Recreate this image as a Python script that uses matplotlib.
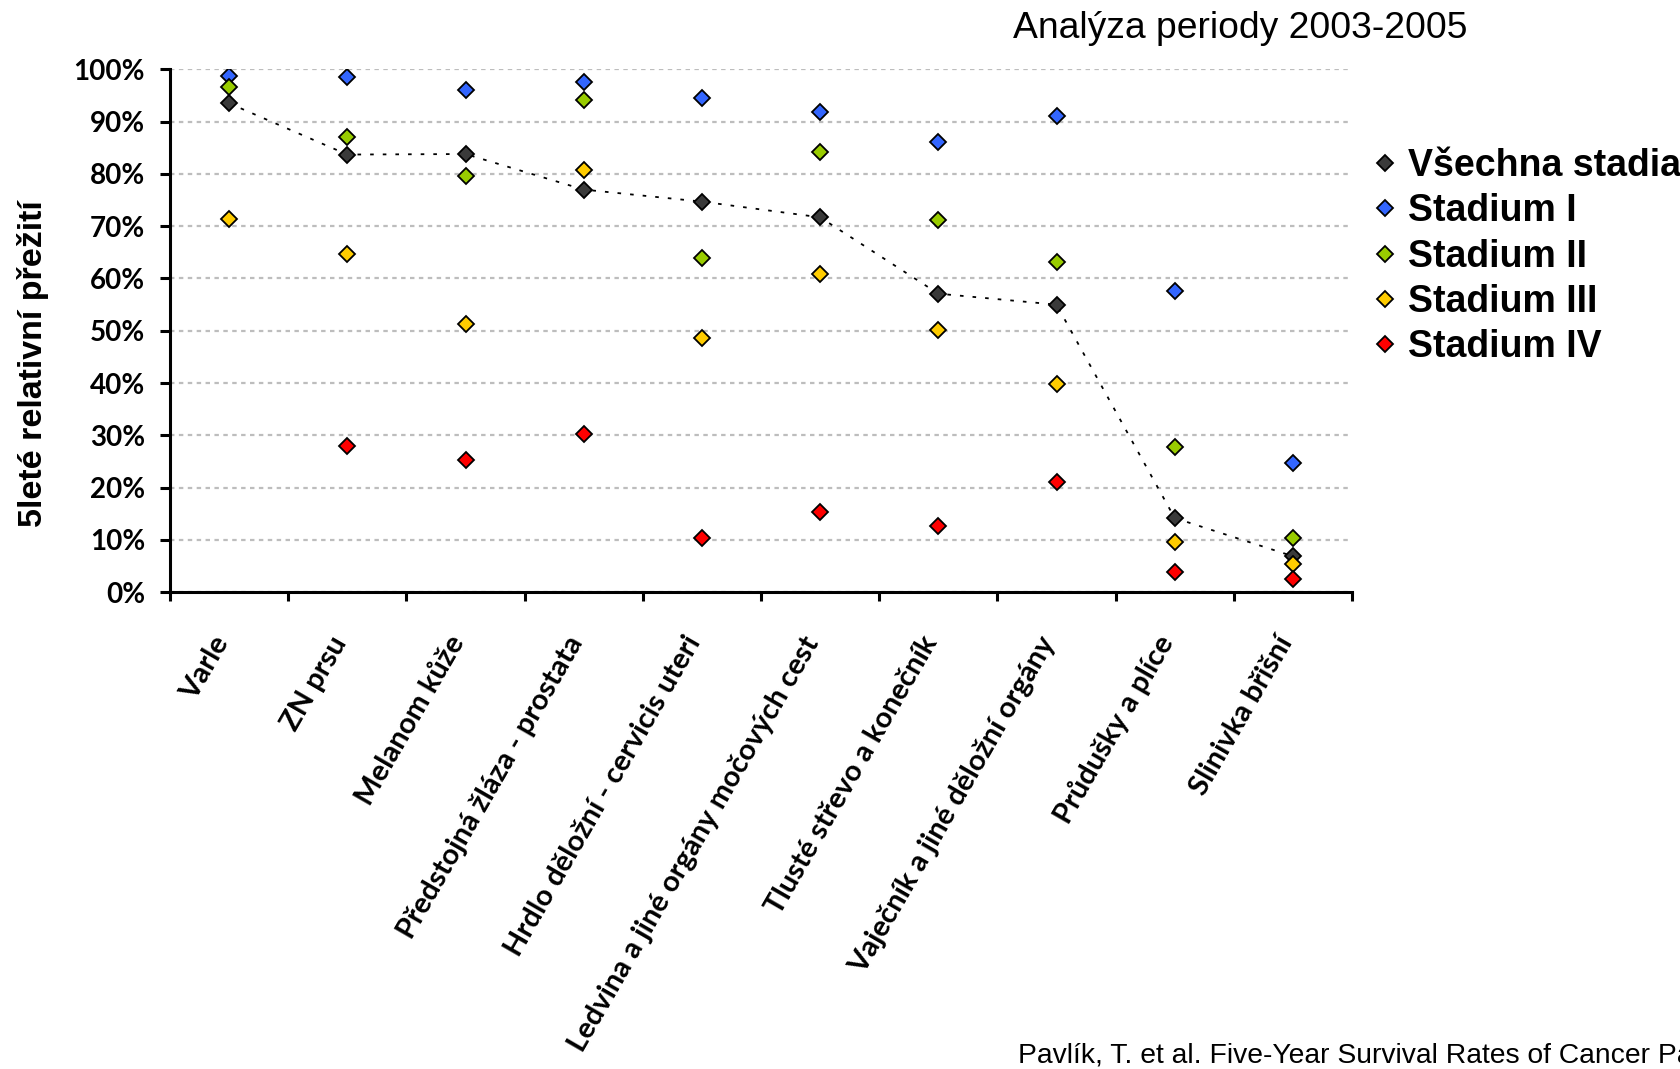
import numpy as np
import matplotlib
matplotlib.use("Agg")
import matplotlib.pyplot as plt

# ---- data ----
kategorie = [
    "Varle",
    "ZN prsu",
    "Melanom kůže",
    "Předstojná žláza - prostata",
    "Hrdlo děložní - cervicis uteri",
    "Ledvina a jiné orgány močových cest",
    "Tlusté střevo a konečník",
    "Vaječník a jiné děložní orgány",
    "Průdušky a plíce",
    "Slinivka břišní",
]
vsechna = [93.5, 83.7, 83.8, 77.0, 74.7, 71.7, 57.1, 55.0, 14.2, 6.9]
stadium_1 = [98.7, 98.6, 96.0, 97.6, 94.6, 91.9, 86.1, 91.1, 57.6, 24.8]
stadium_2 = [96.6, 87.0, 79.6, 94.2, 63.9, 84.1, 71.2, 63.2, 27.8, 10.3]
stadium_3 = [71.4, 64.6, 51.3, 80.8, 48.6, 60.9, 50.1, 39.8, 9.6, 5.4]
stadium_4 = [np.nan, 27.9, 25.3, 30.2, 10.4, 15.3, 12.6, 21.0, 3.8, 2.6]

nazvy = ["Všechna stadia", "Stadium I", "Stadium II", "Stadium III", "Stadium IV"]
barvy = ["#3a3a3a", "#3366ff", "#99cc00", "#ffcc00", "#ff0000"]

yticks = list(range(0, 101, 10))
ytick_labels = [f"{v}%" for v in yticks]

# ---- figure ----
fig = plt.figure(figsize=(16.8, 10.69), dpi=100)
ax = fig.add_axes([170 / 1680, 1 - 592.3 / 1069, (1352 - 170) / 1680, (592.3 - 69.3) / 1069])

x = np.arange(len(kategorie))

ax.yaxis.grid(True, color="#bdbdbd", linewidth=1.6, linestyle=(0, (2, 2)), zorder=0)
ax.set_axisbelow(True)

# tečkovaná spojnice pro všechna stadia
ax.plot(x, vsechna, color="black", linewidth=1.3, linestyle=(0, (2, 5)), zorder=2)

serie = [vsechna, stadium_1, stadium_2, stadium_3, stadium_4]
for hodnoty, nazev, barva in zip(serie, nazvy, barvy):
    ax.plot(x, hodnoty, linestyle="none", marker="D", markersize=8.6,
            markerfacecolor=barva, markeredgecolor="black", markeredgewidth=1.3,
            label=nazev, zorder=3)

ax.set_xlim(-0.5, len(kategorie) - 0.5)
ax.set_ylim(0, 100)

for s in ["top", "right"]:
    ax.spines[s].set_visible(False)
for s in ["left", "bottom"]:
    ax.spines[s].set_linewidth(2.2)

ax.set_yticks(yticks)
ax.set_yticklabels(ytick_labels, fontfamily="Lato", fontweight="bold", fontsize=20)
ax.tick_params(axis="y", direction="out", length=7, width=2.2, pad=11)

# čárky na hranicích kategorií, popisky uprostřed
ax.set_xticks(np.arange(-0.5, len(kategorie)), labels=[""] * (len(kategorie) + 1))
ax.tick_params(axis="x", which="major", direction="out", length=6.5, width=2.2)
ax.set_xticks(x, labels=kategorie, minor=True)
ax.tick_params(axis="x", which="minor", length=0, pad=36)
for lbl in ax.get_xticklabels(minor=True):
    lbl.set_fontfamily("Lato")
    lbl.set_fontweight("bold")
    lbl.set_fontsize(21)
    lbl.set_rotation(60)
    lbl.set_rotation_mode("anchor")
    lbl.set_ha("right")
    lbl.set_va("baseline")

fig.text(33 / 1680, 1 - 364 / 1069, "5leté relativní přežití", rotation=90,
         ha="center", va="center", fontfamily="Liberation Sans", fontweight="bold",
         fontsize=24.5)

leg = ax.legend(loc="upper left", bbox_to_anchor=(1374 / 1680, 1 - 148 / 1069),
                bbox_transform=fig.transFigure, frameon=False, borderpad=0,
                borderaxespad=0, handlelength=0.6, handletextpad=0.32,
                labelspacing=0.25,
                prop={"family": "Liberation Sans", "weight": "bold", "size": 27})

fig.text(1240 / 1680, 1 - 29 / 1069, "Analýza periody 2003-2005", ha="center",
         va="center", fontfamily="Liberation Sans", fontsize=26.8)

fig.text(1018 / 1680, 1 - 1063 / 1069,
         "Pavlík, T. et al. Five-Year Survival Rates of Cancer Pa",
         ha="left", va="baseline", fontfamily=["Liberation Sans Narrow", "Liberation Sans"],
         fontsize=20.3)

fig.savefig("out.png", dpi=100)
